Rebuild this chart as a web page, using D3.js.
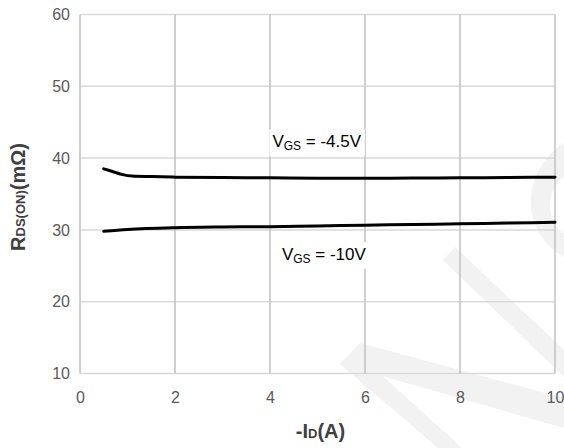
<!DOCTYPE html>
<html><head><meta charset="utf-8">
<script src="https://cdn.jsdelivr.net/npm/d3@7"></script>
<style>
html,body{margin:0;padding:0;background:#fff;}
svg{display:block;font-family:"Liberation Sans",Arial,sans-serif;}
</style></head>
<body>
<svg id="chart" width="564" height="448"></svg>
<script>
const xTicks = [0, 2, 4, 6, 8, 10];
const yTicks = [10, 20, 30, 40, 50, 60];
const idVgs45 = [0.5, 0.7, 0.9, 1.1, 1.5, 2, 3, 4, 5, 6, 7, 8, 9, 10];
const rdsVgs45 = [38.5, 38.1, 37.7, 37.5, 37.42, 37.35, 37.3, 37.25, 37.2, 37.2, 37.22, 37.25, 37.3, 37.35];
const idVgs10 = [0.5, 1, 2, 3, 4, 5, 6, 7, 8, 9, 10];
const rdsVgs10 = [29.8, 30.05, 30.3, 30.4, 30.45, 30.55, 30.65, 30.75, 30.85, 30.95, 31.05];
const seriesLabels = [
  {main: "V", sub: "GS", rest: " = -4.5V", x: 4.05, y: 41.5},
  {main: "V", sub: "GS", rest: " = -10V", x: 4.25, y: 25.8}
];

const svg = d3.select("#chart");
const m = {left: 80, right: 9, top: 14.5, bottom: 74.5};
const W = 564, H = 448;
const x = d3.scaleLinear().domain([0, 10]).range([m.left, W - m.right]);
const y = d3.scaleLinear().domain([10, 60]).range([H - m.bottom, m.top]);

// faint background watermark
const wm = svg.append("g").attr("fill", "#f2f2f2");
wm.append("path").attr("d", "M340,364 L360,343 L564,398 L564,428 Z");
wm.append("path").attr("d", "M340,364 L356,352 L462,448 L438,448 Z");
wm.append("path").attr("d", "M443,260 L455,247 L564,350 L564,377 Z");
wm.append("path").attr("d", "M564,143 C528,165 512,225 564,257 L564,233 C545,222 545,190 564,177 Z");

// gridlines
const grid = svg.append("g");
grid.selectAll("line.h").data(yTicks).join("line")
  .attr("x1", x(0)).attr("x2", x(10))
  .attr("y1", d => y(d)).attr("y2", d => y(d))
  .attr("stroke", "#d9d9d9").attr("stroke-width", 1.5);
grid.selectAll("line.v").data(xTicks).join("line")
  .attr("x1", d => x(d)).attr("x2", d => x(d))
  .attr("y1", y(60)).attr("y2", y(10))
  .attr("stroke", "#c0c0c0").attr("stroke-width", 1.5);

// axes (labels only)
const xAxis = svg.append("g").attr("transform", `translate(0,${y(10)})`)
  .call(d3.axisBottom(x).tickValues(xTicks).tickSize(0).tickPadding(18));
const yAxis = svg.append("g").attr("transform", `translate(${x(0)},0)`)
  .call(d3.axisLeft(y).tickValues(yTicks).tickSize(0).tickPadding(10));
[xAxis, yAxis].forEach(a => {
  a.select(".domain").remove();
  a.selectAll("text").attr("fill", "#595959").attr("font-size", 16)
   .attr("font-family", "Liberation Sans, Arial, sans-serif");
});

// lines
const line = d3.line().x(d => x(d[0])).y(d => y(d[1])).curve(d3.curveMonotoneX);
const s1 = idVgs45.map((v, i) => [v, rdsVgs45[i]]);
const s2 = idVgs10.map((v, i) => [v, rdsVgs10[i]]);
[s1, s2].forEach(s => {
  svg.append("path").datum(s).attr("d", line)
    .attr("fill", "none").attr("stroke", "#000").attr("stroke-width", 3)
    .attr("stroke-linecap", "round");
});

// series labels with white backgrounds
seriesLabels.forEach(l => {
  const g = svg.append("g");
  const bg = g.append("rect").attr("fill", "#fff");
  const t = g.append("text").attr("x", x(l.x)).attr("y", y(l.y))
    .attr("font-size", 17).attr("fill", "#000");
  t.append("tspan").text(l.main);
  t.append("tspan").text(l.sub).attr("font-size", 12).attr("dy", 3);
  t.append("tspan").text(l.rest).attr("dy", -3);
  const b = t.node().getBBox();
  bg.attr("x", b.x - 3).attr("y", b.y - 3).attr("width", b.width + 6).attr("height", b.height + 6);
});

// axis titles
const xt = svg.append("text").attr("x", x(5) + 3).attr("y", 438)
  .attr("text-anchor", "middle").attr("font-weight", "bold").attr("font-size", 20).attr("fill", "#404040");
xt.append("tspan").text("-I");
xt.append("tspan").text("D").attr("font-size", 13);
xt.append("tspan").text("(A)");

const yt = svg.append("text").attr("transform", `translate(25,${y(35) + 3}) rotate(-90)`)
  .attr("text-anchor", "middle").attr("font-weight", "bold").attr("font-size", 20).attr("fill", "#404040");
yt.append("tspan").text("R");
yt.append("tspan").text("DS(ON)").attr("font-size", 13);
yt.append("tspan").text("(mΩ)");
</script>
</body></html>
